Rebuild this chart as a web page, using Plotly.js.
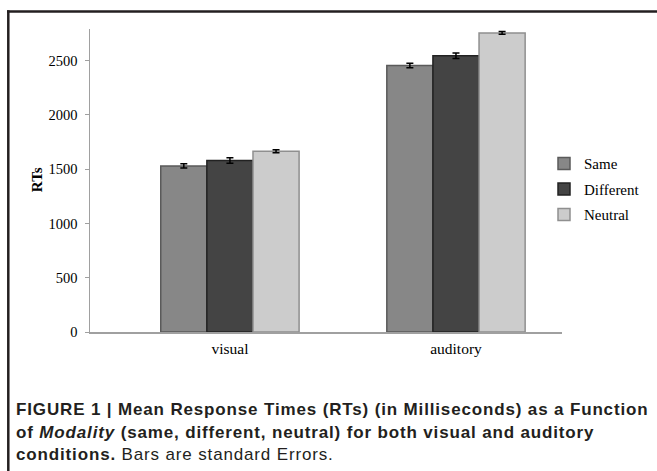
<!DOCTYPE html>
<html>
<head>
<meta charset="utf-8">
<script src="https://cdn.plot.ly/plotly-3.0.1.min.js"></script>
<style>
html,body{margin:0;padding:0;background:#fff;}
#chart{width:657px;height:471px;}
</style>
</head>
<body>
<div id="chart"></div>
<script>
// Data
var categories = ["visual", "auditory"];
var seriesNames = ["Same", "Different", "Neutral"];
var sameRT = [1530, 2455];
var differentRT = [1580, 2545];
var neutralRT = [1665, 2755];
var sameSE = [20, 20];
var differentSE = [25, 25];
var neutralSE = [14, 12];
var yTicks = [0, 500, 1000, 1500, 2000, 2500];
var yTitle = "RTs";
var captionLines = [
  "<b>FIGURE 1 | Mean Response Times (RTs) (in Milliseconds) as a Function</b>",
  "<b>of <i>Modality</i> (same, different, neutral) for both visual and auditory</b>",
  "<b>conditions.</b> Bars are standard Errors."
];

var colors = ["#878787", "#444444", "#cccccc"];
var lines = ["#5a5a5a", "#222222", "#8f8f8f"];
var values = [sameRT, differentRT, neutralRT];
var errors = [sameSE, differentSE, neutralSE];

var traces = seriesNames.map(function(name, i){
  return {
    type: "bar",
    name: name,
    x: categories,
    y: values[i],
    legendgroup: name,
    marker: {color: colors[i], line: {color: lines[i], width: 1.5}},
    error_y: {type: "data", array: errors[i], visible: true, color: "#000", thickness: 1.5, width: 3.5}
  };
});

// plot area: x 90..562, y 29..331.7
var L = 90, R = 562, T = 29, B = 331.7, W = 657, H = 471;
function px(x){ return (x - L) / (R - L); }
function py(y){ return (B - y) / (B - T); }

var serif = "Liberation Serif, Times New Roman, serif";
var captionFont = {family: "Liberation Sans, Arial, sans-serif", size: 17, color: "#231f20"};
var captionY = [409, 431.7, 454];

var annotations = captionLines.map(function(t, i){
  return {xref: "paper", yref: "paper", x: px(14), y: py(captionY[i]), xanchor: "left", yanchor: "middle",
    showarrow: false, align: "left", text: t, font: captionFont, name: "caption"};
});
annotations.push({xref: "paper", yref: "paper", x: px(37), y: py(180), xanchor: "center", yanchor: "middle",
  showarrow: false, textangle: -90, text: "<b>" + yTitle + "</b>", font: {family: serif, size: 15, color: "#000"}});

var layout = {
  width: W, height: H,
  margin: {l: L, r: W - R, t: T, b: H - B, pad: 0, autoexpand: false},
  paper_bgcolor: "#fff",
  plot_bgcolor: "#fff",
  barmode: "group",
  bargap: 0.388,
  bargroupgap: 0,
  showlegend: true,
  legend: {
    x: px(544), xanchor: "left",
    y: py(189), yanchor: "middle",
    font: {family: serif, size: 15, color: "#000"},
    tracegroupgap: 3,
    bgcolor: "rgba(0,0,0,0)",
    itemclick: false
  },
  xaxis: {
    type: "category",
    range: [-0.619, 1.469],
    automargin: false,
    showline: true, linecolor: "#a0a0a0", linewidth: 1.5,
    ticks: "", showgrid: false, zeroline: false,
    ticklabelstandoff: 2,
    tickfont: {family: serif, size: 15.5, color: "#000"},
    fixedrange: true
  },
  yaxis: {
    range: [0, 2791],
    automargin: false,
    tickvals: yTicks,
    ticktext: yTicks.map(String),
    showline: true, linecolor: "#a0a0a0", linewidth: 1.5,
    ticks: "outside", ticklen: 4, tickcolor: "#a0a0a0", tickwidth: 1,
    ticklabelstandoff: 4,
    showgrid: false, zeroline: false,
    tickfont: {family: serif, size: 14.5, color: "#000"},
    fixedrange: true
  },
  shapes: [
    {type: "line", xref: "paper", yref: "paper", x0: px(7), x1: px(657), y0: py(11.5), y1: py(11.5), line: {color: "#231f20", width: 2.5}},
    {type: "line", xref: "paper", yref: "paper", x0: px(8.3), x1: px(8.3), y0: py(10.3), y1: py(471), line: {color: "#231f20", width: 2.5}}
  ],
  annotations: annotations
};

Plotly.newPlot("chart", traces, layout, {displayModeBar: false, staticPlot: true}).then(function(){
  var nodes = document.querySelectorAll("#chart .annotation-text");
  for (var i = 0; i < captionLines.length && i < nodes.length; i++) {
    nodes[i].style.letterSpacing = "0.85px";
  }
});
</script>
</body>
</html>
